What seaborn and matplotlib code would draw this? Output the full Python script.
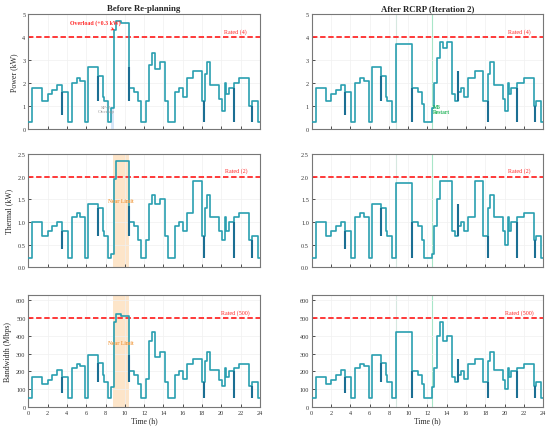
import numpy as np
import matplotlib
matplotlib.use("Agg")
import matplotlib.pyplot as plt
import seaborn as sns

# ---- data: step start times (h) and values, before / after re-planning ----
t_before = [0.0, 0.4, 1.45, 2.0, 2.5, 3.0, 3.45, 4.1, 4.5, 5.0, 5.4, 5.9, 6.2, 7.2, 7.7, 7.8,
            8.3, 8.6, 8.9, 9.1, 9.6, 10.45, 11.0, 11.35, 11.65, 12.2, 12.5, 12.85, 13.15, 13.6,
            14.15, 14.5, 15.25, 15.6, 16.0, 16.4, 17.05, 17.95, 18.3, 18.5, 18.8, 19.8, 20.1,
            20.35, 20.5, 20.75, 21.3, 21.8, 22.9, 23.2, 23.8, 24.0]
power_before = [0.3, 1.8, 1.2, 1.5, 1.7, 1.9, 1.6, 0.3, 2.0, 2.2, 2.1, 0.3, 2.7, 2.3, 1.4, 1.2,
                0.3, 0.9, 4.3, 4.7, 4.6, 1.8, 1.6, 1.2, 0.3, 1.2, 2.8, 3.3, 2.6, 2.9,
                1.2, 0.3, 1.6, 1.8, 1.4, 2.2, 2.5, 1.2, 2.4, 2.9, 1.9, 1.3, 0.8,
                2.0, 1.5, 1.8, 2.0, 2.2, 1.0, 1.2, 0.3, 0.3]
thermal_before = [0.2, 1.0, 0.7, 0.8, 0.9, 1.0, 0.8, 0.2, 1.1, 1.2, 1.1, 0.2, 1.4, 1.3, 0.8, 0.7,
                  0.2, 0.3, 1.95, 2.35, 2.35, 1.0, 0.9, 0.6, 0.2, 0.6, 1.4, 1.6, 1.4, 1.5,
                  0.7, 0.2, 0.9, 1.0, 0.8, 1.2, 1.9, 0.7, 1.3, 1.6, 1.1, 0.8, 0.6,
                  1.1, 0.8, 1.0, 1.1, 1.2, 0.6, 0.7, 0.2, 0.2]
bw_before = [50, 170, 130, 150, 180, 210, 170, 50, 220, 240, 230, 50, 290, 250, 180, 140,
             50, 110, 480, 520, 510, 200, 180, 130, 50, 160, 370, 420, 280, 310,
             140, 50, 180, 200, 160, 240, 270, 140, 260, 310, 210, 150, 120,
             220, 170, 200, 220, 240, 120, 140, 50, 50]

t_after = [0.0, 0.4, 1.45, 2.0, 2.5, 3.0, 3.45, 4.1, 4.5, 5.0, 5.4, 5.9, 6.2, 7.2, 7.7, 7.8,
           8.3, 8.75, 10.4, 11.0, 11.4, 11.65, 12.45, 12.7, 12.95, 13.25, 13.6, 14.05, 14.55,
           14.85, 15.2, 15.5, 15.8, 16.2, 16.95, 17.8, 18.3, 18.5, 18.85, 19.8, 20.05, 20.3,
           20.5, 20.7, 21.3, 22.0, 23.0, 23.2, 23.8, 24.0]
power_after = [0.3, 1.8, 1.2, 1.5, 1.7, 1.9, 1.6, 0.3, 2.0, 2.2, 2.1, 0.3, 2.7, 2.3, 1.4, 1.2,
               0.3, 3.7, 1.8, 1.6, 1.1, 0.3, 0.9, 2.0, 3.1, 3.8, 3.5, 3.8, 1.5,
               1.2, 1.6, 1.8, 1.4, 2.2, 2.5, 1.2, 2.4, 2.9, 1.9, 1.3, 0.8, 2.0,
               1.5, 1.8, 2.0, 2.2, 1.0, 1.2, 0.3, 0.3]
thermal_after = [0.2, 1.0, 0.7, 0.8, 0.9, 1.0, 0.8, 0.2, 1.1, 1.2, 1.1, 0.2, 1.4, 1.3, 0.8, 0.7,
                 0.2, 1.85, 1.0, 0.9, 0.6, 0.2, 0.3, 0.9, 1.5, 1.9, 1.9, 1.9, 0.8,
                 0.7, 0.9, 1.0, 0.8, 1.1, 1.9, 0.7, 1.3, 1.6, 1.1, 0.8, 0.5, 1.1,
                 0.8, 1.0, 1.1, 1.2, 0.6, 0.7, 0.2, 0.2]
bw_after = [50, 170, 130, 150, 180, 210, 170, 50, 220, 240, 230, 50, 290, 250, 180, 140,
            50, 420, 200, 180, 130, 50, 110, 220, 400, 480, 370, 400, 170,
            140, 180, 200, 160, 240, 270, 140, 260, 310, 210, 150, 100, 220,
            170, 200, 220, 240, 120, 140, 50, 50]

# short transients (time, low, high) drawn darker
spike_t_before = [3.45, 7.2, 10.45, 18.25, 21.3, 23.15]
spike_p_before = [(0.6, 1.6), (1.2, 2.3), (1.2, 2.7), (0.3, 1.2), (0.3, 1.8), (0.3, 1.0)]
spike_th_before = [(0.4, 0.8), (0.7, 1.3), (0.7, 1.35), (0.2, 0.7), (0.2, 1.0), (0.2, 0.6)]
spike_bw_before = [(80, 170), (140, 250), (140, 290), (50, 140), (50, 200), (50, 120)]
spike_t_after = [3.45, 7.2, 10.4, 15.2, 18.25, 21.3, 23.15]
spike_p_after = [(0.6, 1.6), (1.2, 2.3), (0.3, 1.8), (1.2, 2.5), (0.3, 1.2), (0.3, 1.8), (0.3, 1.0)]
spike_th_after = [(0.4, 0.8), (0.7, 1.3), (0.2, 1.0), (0.7, 1.4), (0.2, 0.7), (0.2, 1.0), (0.2, 0.6)]
spike_bw_after = [(80, 170), (140, 250), (50, 200), (140, 270), (50, 140), (50, 200), (50, 120)]

rated = [4, 2, 500]
ylims = [5, 2.5, 630]
ylabels = ["Power (kW)", "Thermal (kW)", "Bandwidth (Mbps)"]
yticks = [np.arange(0, 6, 1), np.arange(0, 2.51, 0.5), np.arange(0, 601, 100)]
titles = ["Before Re-planning", "After RCRP (Iteration 2)"]

sns.set_theme(style="whitegrid")
plt.rcParams['font.family'] = ['Liberation Serif', 'DejaVu Serif']

LINE = '#2a9fb0'
DARK = '#1b6f93'
RED = '#ff2a2a'

fig = plt.figure(figsize=(5.5, 4.31), dpi=100)
lefts = [0.0515, 0.5667]
bottoms = [0.6984, 0.3775, 0.0534]
heights = [0.2668, 0.263, 0.26]
width = 0.421

series = [
    (t_before, [power_before, thermal_before, bw_before],
     spike_t_before, [spike_p_before, spike_th_before, spike_bw_before]),
    (t_after, [power_after, thermal_after, bw_after],
     spike_t_after, [spike_p_after, spike_th_after, spike_bw_after]),
]

for c in range(2):
    t, vals, st, svals = series[c]
    for r in range(3):
        ax = fig.add_axes([lefts[c], bottoms[r], width, heights[r]])
        ax.grid(True, color='#f0f0f0', lw=0.5)

        # highlight regions behind the data
        if c == 0 and r > 0:
            ax.axvspan(8.8, 10.45, color='#fde3c3', alpha=0.9, lw=0, zorder=0)
        if c == 0 and r == 0:
            ax.axvspan(8.55, 8.9, ymax=0.2, color='#d8e6f7', lw=0, zorder=0)
        if c == 1:
            ax.axvline(8.75, color='#d6e8e0', lw=0.8, zorder=0)
            ax.axvline(12.5, color='#a8e6c8', lw=0.8, zorder=0)

        sns.lineplot(x=t, y=vals[r], ax=ax, drawstyle='steps-post', color=LINE,
                     lw=1.2, sort=False, zorder=3)
        ax.vlines(st, [s[0] for s in svals[r]], [s[1] for s in svals[r]],
                  color=DARK, lw=1.5, zorder=4)

        ax.axhline(rated[r], color=RED, ls='--', lw=1.3, dashes=(3, 1.5), zorder=2)
        ax.text(21.5, rated[r] + ylims[r] * 0.03, f"Rated ({rated[r]})", color=RED,
                fontsize=4.3, ha='center', va='bottom')

        ax.set_xlim(0, 24)
        ax.set_ylim(0, ylims[r])
        ax.set_xticks(np.arange(0, 25, 2))
        ax.set_yticks(yticks[r])
        if r == 1:
            ax.set_yticklabels([f"{v:.1f}" for v in yticks[r]])
        ax.tick_params(direction='in', length=2, width=0.6, labelsize=4.5, pad=2,
                       colors='#333333', bottom=True, left=True)
        if r < 2:
            ax.set_xticklabels([])
        else:
            ax.set_xlabel("Time (h)", fontsize=5.5, labelpad=1)
        if c == 0:
            ax.set_ylabel(ylabels[r], fontsize=5.7, labelpad=3)
        if r == 0:
            ax.set_title(titles[c], fontsize=6.3, fontweight='bold', pad=3)
        for sp in ax.spines.values():
            sp.set_color('#777777')
            sp.set_linewidth(0.8)

        # annotations
        if c == 0 and r == 0:
            ax.annotate("Overload (+0.3 kW)", xy=(8.95, 4.3), xytext=(6.9, 4.65),
                        color=RED, fontsize=4.2, fontweight='bold', ha='center', va='center',
                        arrowprops=dict(arrowstyle='->', color=RED, lw=0.7), zorder=5)
            ax.text(8.05, 0.88, "SP-2\nOverlap", color='#999999', fontsize=3.8,
                    ha='center', va='center', linespacing=1.0)
        if c == 0 and r > 0:
            ax.text(9.6, 1.47 if r == 1 else 360, "Near Limit", color='#f2a04a',
                    fontsize=4, fontweight='bold', ha='center', va='center')
        if c == 1 and r == 0:
            ax.text(12.6, 0.88, "M6\nRestart", color='#22b35a', fontsize=4,
                    fontweight='bold', ha='left', va='center', linespacing=1.0)

fig.savefig("out.png", dpi=100)
